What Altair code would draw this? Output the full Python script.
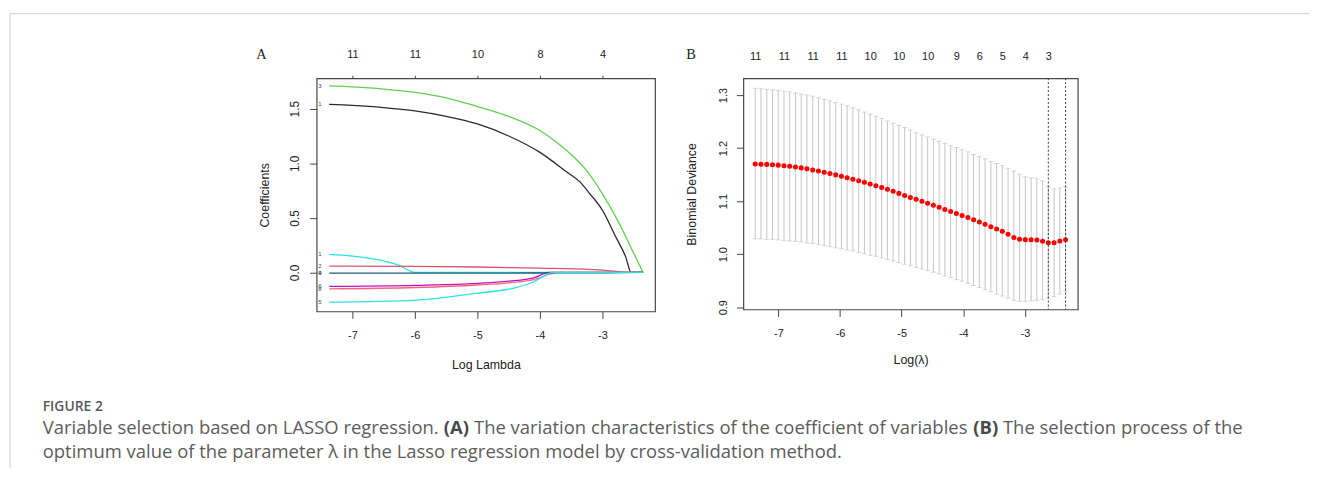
import altair as alt
import pandas as pd

# ---------------- Panel A : coefficient paths ----------------
A_X_TICKS = [-7, -6, -5, -4, -3]
A_Y_TICKS = [0.0, 0.5, 1.0, 1.5]
A_TOP_TICKS = [-7, -6, -5, -4, -3]
A_TOP_COUNTS = ["11", "11", "10", "8", "4"]

V13_X = [-7.37, -7.0, -6.5, -6.25, -6.0, -2.35]
V13_Y = [0.165, 0.150, 0.105, 0.065, 0.0, 0.0]
V1_X = [-7.37, -7.0, -6.5, -6.0, -5.5, -5.0, -4.5, -4.0, -3.57, -3.36, -3.2, -3.0, -2.79, -2.63, -2.54, -2.35]
V1_Y = [1.54, 1.53, 1.51, 1.48, 1.43, 1.36, 1.25, 1.10, 0.92, 0.83, 0.72, 0.57, 0.33, 0.145, 0.0, 0.0]
V2_X = [-7.37, -6.0, -5.0, -4.0, -3.0, -2.55, -2.35]
V2_Y = [0.057, 0.055, 0.050, 0.040, 0.022, 0.0, 0.0]
V3_X = [-7.37, -7.0, -6.5, -6.0, -5.5, -5.0, -4.5, -4.0, -3.75, -3.5, -3.25, -3.0, -2.75, -2.52, -2.35]
V3_Y = [1.71, 1.70, 1.68, 1.65, 1.60, 1.52, 1.43, 1.30, 1.20, 1.08, 0.93, 0.72, 0.47, 0.20, 0.0]
V6_X = [-7.37, -6.0, -5.0, -4.5, -4.1, -3.85, -2.35]
V6_Y = [-0.127, -0.118, -0.100, -0.080, -0.050, 0.0, 0.0]
V10_X = [-7.37, -6.0, -5.0, -4.5, -4.1, -3.7, -2.35]
V10_Y = [-0.151, -0.138, -0.115, -0.095, -0.065, 0.0, 0.0]
V4_X = [-7.37, -5.0, -4.0, -3.0, -2.35]
V4_Y = [-0.006, -0.006, -0.005, -0.003, 0.0]
V5_X = [-7.37, -6.0, -5.0, -4.43, -4.1, -3.9, -3.8, -2.35]
V5_Y = [-0.272, -0.255, -0.19, -0.145, -0.085, -0.02, 0.0, 0.0]

A_PATHS = [
    ("13", V13_X, V13_Y, "#28E2E5"),
    ("1", V1_X, V1_Y, "#2b2b2b"),
    ("2", V2_X, V2_Y, "#DF536B"),
    ("3", V3_X, V3_Y, "#61D04F"),
    ("6", V6_X, V6_Y, "#CD0BBC"),
    ("10", V10_X, V10_Y, "#E86A7C"),
    ("4", V4_X, V4_Y, "#1F5A7A"),
    ("5", V5_X, V5_Y, "#28E2E5"),
]

A_LABEL_TEXT = ["3", "1", "1", "2", "4", "9", "6", "8", "5"]
A_LABEL_Y = [1.71, 1.54, 0.165, 0.057, -0.006, -0.006, -0.127, -0.151, -0.272]
A_LABEL_X = -7.37

# ---------------- Panel B : cross-validation curve ----------------
B_LOGLAMBDA = [-7.376, -7.283, -7.189, -7.096, -7.003, -6.909, -6.816, -6.723, -6.630, -6.537,
               -6.443, -6.350, -6.257, -6.164, -6.070, -5.977, -5.884, -5.791, -5.697, -5.604,
               -5.511, -5.418, -5.324, -5.231, -5.138, -5.045, -4.951, -4.858, -4.765, -4.671,
               -4.578, -4.485, -4.392, -4.298, -4.205, -4.112, -4.019, -3.925, -3.832, -3.739,
               -3.646, -3.552, -3.459, -3.366, -3.273, -3.179, -3.086, -2.993, -2.899, -2.806,
               -2.713, -2.620, -2.526, -2.433, -2.340]
B_MEAN = [1.1700, 1.1697, 1.1693, 1.1687, 1.1679, 1.1669, 1.1657, 1.1643, 1.1627, 1.1609,
          1.1589, 1.1567, 1.1544, 1.1520, 1.1495, 1.1469, 1.1442, 1.1414, 1.1385, 1.1355,
          1.1324, 1.1292, 1.1259, 1.1224, 1.1186, 1.1146, 1.1106, 1.1068, 1.1034, 1.0998,
          1.0961, 1.0923, 1.0886, 1.0844, 1.0805, 1.0768, 1.0730, 1.0691, 1.0648, 1.0605,
          1.0562, 1.0517, 1.0474, 1.0430, 1.0375, 1.0314, 1.0282, 1.0274, 1.0273, 1.0268,
          1.0243, 1.0213, 1.0216, 1.0249, 1.0273]
B_UP = [1.313, 1.312, 1.311, 1.310, 1.309, 1.307, 1.306, 1.304, 1.302, 1.300,
        1.298, 1.295, 1.292, 1.289, 1.286, 1.283, 1.280, 1.276, 1.272, 1.268,
        1.264, 1.260, 1.256, 1.251, 1.247, 1.243, 1.239, 1.234, 1.229, 1.225,
        1.221, 1.217, 1.213, 1.209, 1.205, 1.201, 1.197, 1.193, 1.188, 1.184,
        1.180, 1.175, 1.171, 1.167, 1.162, 1.157, 1.151, 1.146, 1.144, 1.142,
        1.138, 1.127, 1.123, 1.125, 1.127]
B_LO = [1.029, 1.029, 1.028, 1.028, 1.027, 1.026, 1.025, 1.024, 1.023, 1.021,
        1.020, 1.018, 1.016, 1.014, 1.012, 1.010, 1.008, 1.006, 1.003, 1.001,
        0.998, 0.996, 0.993, 0.990, 0.987, 0.984, 0.981, 0.978, 0.975, 0.972,
        0.969, 0.966, 0.963, 0.959, 0.956, 0.952, 0.949, 0.945, 0.941, 0.937,
        0.933, 0.929, 0.925, 0.921, 0.917, 0.913, 0.911, 0.911, 0.912, 0.913,
        0.914, 0.917, 0.920, 0.925, 0.930]
B_TOP_IDX = [0, 5, 10, 15, 20, 25, 30, 35, 39, 43, 47, 51]
B_TOP_COUNTS = ["11", "11", "11", "11", "10", "10", "10", "9", "6", "5", "4", "3"]
B_LAMBDA_LINES = [-2.620, -2.340]
B_X_TICKS = [-7, -6, -5, -4, -3]
B_Y_TICKS = [0.9, 1.0, 1.1, 1.2, 1.3]

CAPTION_TITLE = "FIGURE 2"
CAPTION_L1 = ["Variable selection based on LASSO regression.", "(A)",
              "The variation characteristics of the coefficient of variables", "(B)",
              "The selection process of the"]
CAPTION_L1_BOLD = [False, True, False, True, False]
CAPTION_L2 = "optimum value of the parameter \u03bb in the Lasso regression model by cross-validation method."

# ---------------- layout constants ----------------
AW, AH = 341, 235
BW, BH = 337, 233
AXFONT = "Liberation Sans"
CAPFONT = "Open Sans"
CAPSIZE = 18.6
SEG_EM = [21.47, 1.374, 26.79, 1.345, 13.01]   # approximate advance widths (em) of the pieces
ONE = pd.DataFrame({"a": [0]})


def expr_map(values, labels):
    vals = ",".join(repr(v) for v in values)
    labs = ",".join("'" + l + "'" for l in labels)
    return "[" + labs + "][indexof([" + vals + "], datum.value)]"


def txt(s, x, y, size, color, font, weight="normal", align="left", baseline="alphabetic"):
    return alt.Chart(ONE).mark_text(
        align=align, baseline=baseline, fontSize=size, color=color, font=font, fontWeight=weight
    ).encode(x=alt.value(x), y=alt.value(y), text=alt.value(s))


# ---------------- Panel A ----------------
xA_scale = alt.Scale(domain=[-7.5714, -2.1587], nice=False, zero=False)
yA_scale = alt.Scale(domain=[-0.3573, 1.7791], nice=False, zero=False)
xA_axis = alt.Axis(values=A_X_TICKS, labelExpr="'' + datum.value", title="Log Lambda",
                   titleX=AW / 2, titleY=53, titleAlign="center", titleBaseline="middle",
                   tickSize=7, labelPadding=11, labelFontSize=11, labelFlush=False, labelOverlap=False)
yA_axis = alt.Axis(values=A_Y_TICKS, format=".1f", title="Coefficients", labelAngle=270,
                   labelAlign="center", labelBaseline="bottom", labelPadding=8, tickSize=7,
                   labelFontSize=12, titleX=-52, titleY=AH / 2, titleAngle=270, titleAlign="center",
                   titleBaseline="middle", labelFlush=False, labelOverlap=False)
xA = alt.X("x:Q", scale=xA_scale, axis=xA_axis)
yA = alt.Y("y:Q", scale=yA_scale, axis=yA_axis)

lineA = []
for name, xs, ys, col in A_PATHS:
    df = pd.DataFrame({"x": xs, "y": ys})
    lineA.append(
        alt.Chart(df).mark_line(color=col, strokeWidth=1.3, interpolate="monotone").encode(x=xA, y=yA)
    )

labA = alt.Chart(pd.DataFrame({"x": [A_LABEL_X] * len(A_LABEL_TEXT), "y": A_LABEL_Y, "t": A_LABEL_TEXT})).mark_text(
    align="left", baseline="middle", dx=-11, fontSize=6, font=AXFONT, color="#444"
).encode(x=xA, y=yA, text="t:N")

# caption line 1 laid out piece by piece (bold panel references)
sp = 0.26 * CAPSIZE
cap1 = []
cx = -276
for t, em, b in zip(CAPTION_L1, SEG_EM, CAPTION_L1_BOLD):
    cap1.append(txt(t, cx, 358, CAPSIZE, "#4a4a4a" if b else "#5c5c5c", CAPFONT,
                    weight="bold" if b else "normal"))
    cx += em * CAPSIZE + sp

decor = [
    txt("A", -55.7, -19.7, 14.5, "#222", "Liberation Serif", align="center"),
    alt.Chart(ONE).mark_rule(color="#cccccc", strokeWidth=1).encode(
        x=alt.value(-309), x2=alt.value(1000), y=alt.value(-65)),
    alt.Chart(ONE).mark_rule(color="#cccccc", strokeWidth=1).encode(
        x=alt.value(-309), y=alt.value(-65), y2=alt.value(393)),
    txt(CAPTION_TITLE, -276, 335, 14, "#595959", CAPFONT, weight=600),
    *cap1,
    txt(CAPTION_L2, -276, 383, CAPSIZE, "#5c5c5c", CAPFONT),
]

topA = alt.Chart(pd.DataFrame({"x": A_TOP_TICKS})).mark_point(opacity=0).encode(
    x=alt.X("x:Q", scale=xA_scale, axis=alt.Axis(
        orient="top", values=A_TOP_TICKS, labelExpr=expr_map(A_TOP_TICKS, A_TOP_COUNTS), title=None,
        tickSize=3, labelPadding=16, labelFontSize=11, labelFlush=False, labelOverlap=False)),
    y=alt.value(0),
)

panelA = alt.layer(alt.layer(*lineA, labA, *decor), topA).resolve_axis(x="independent").properties(
    width=AW, height=AH)

# ---------------- Panel B ----------------
xB_scale = alt.Scale(domain=[-7.5684, -2.1417], nice=False, zero=False)
yB_scale = alt.Scale(domain=[0.8957, 1.3318], nice=False, zero=False)
xB_axis = alt.Axis(values=B_X_TICKS, labelExpr="'' + datum.value", title="Log(\u03bb)",
                   titleX=BW / 2, titleY=50, titleAlign="center", titleBaseline="middle",
                   tickSize=7, labelPadding=11, labelFontSize=11, labelFlush=False, labelOverlap=False)
yB_axis = alt.Axis(values=B_Y_TICKS, format=".1f", title="Binomial Deviance", labelAngle=270,
                   labelAlign="center", labelBaseline="bottom", labelPadding=8, tickSize=7,
                   labelFontSize=11, titleX=-52, titleY=BH / 2, titleAngle=270, titleAlign="center",
                   titleBaseline="middle", labelFlush=False, labelOverlap=False)

dfB = pd.DataFrame({"x": B_LOGLAMBDA, "m": B_MEAN, "u": B_UP, "l": B_LO})
xB = alt.X("x:Q", scale=xB_scale, axis=xB_axis)

bars = alt.Chart(dfB).mark_rule(color="#c6c6c6", strokeWidth=1).encode(
    x=xB, y=alt.Y("l:Q", scale=yB_scale, axis=yB_axis), y2="u:Q")
capU = alt.Chart(dfB).mark_tick(orient="horizontal", color="#c6c6c6", size=5, thickness=1).encode(
    x=xB, y=alt.Y("u:Q", scale=yB_scale, axis=yB_axis))
capL = alt.Chart(dfB).mark_tick(orient="horizontal", color="#c6c6c6", size=5, thickness=1).encode(
    x=xB, y=alt.Y("l:Q", scale=yB_scale, axis=yB_axis))
pts = alt.Chart(dfB).mark_circle(size=26, color="#ff0000", opacity=1).encode(
    x=xB, y=alt.Y("m:Q", scale=yB_scale, axis=yB_axis))
vlines = alt.Chart(pd.DataFrame({"x": B_LAMBDA_LINES})).mark_rule(
    color="#3a3a3a", strokeDash=[2, 2], strokeWidth=1).encode(x=xB)
letterB = txt("B", -52.7, -19.3, 14.5, "#222", "Liberation Serif", align="center")

top_vals = [B_LOGLAMBDA[i] for i in B_TOP_IDX]
topB = alt.Chart(pd.DataFrame({"x": top_vals})).mark_point(opacity=0).encode(
    x=alt.X("x:Q", scale=xB_scale, axis=alt.Axis(
        orient="top", values=top_vals, labelExpr=expr_map(top_vals, B_TOP_COUNTS), title=None,
        ticks=False, tickSize=0, labelPadding=16.5, labelFontSize=11, labelFlush=False, labelOverlap=False)),
    y=alt.value(0),
)

panelB = alt.layer(alt.layer(bars, capU, capL, pts, vlines, letterB), topB).resolve_axis(
    x="independent").properties(width=BW, height=BH)

chart = alt.hconcat(
    panelA, panelB, spacing=89, bounds="flush",
    padding={"left": 0, "top": 2, "right": 0, "bottom": 0}, background="white",
).configure_view(stroke="#474747", strokeWidth=1.2).configure_axis(
    domain=False, grid=False, labelFont=AXFONT, titleFont=AXFONT, labelColor="#222",
    titleColor="#222", tickColor="#474747", titleFontWeight="normal", titleFontSize=12.5,
)

chart.save("out.html", embed_options={"renderer": "svg", "actions": False})
